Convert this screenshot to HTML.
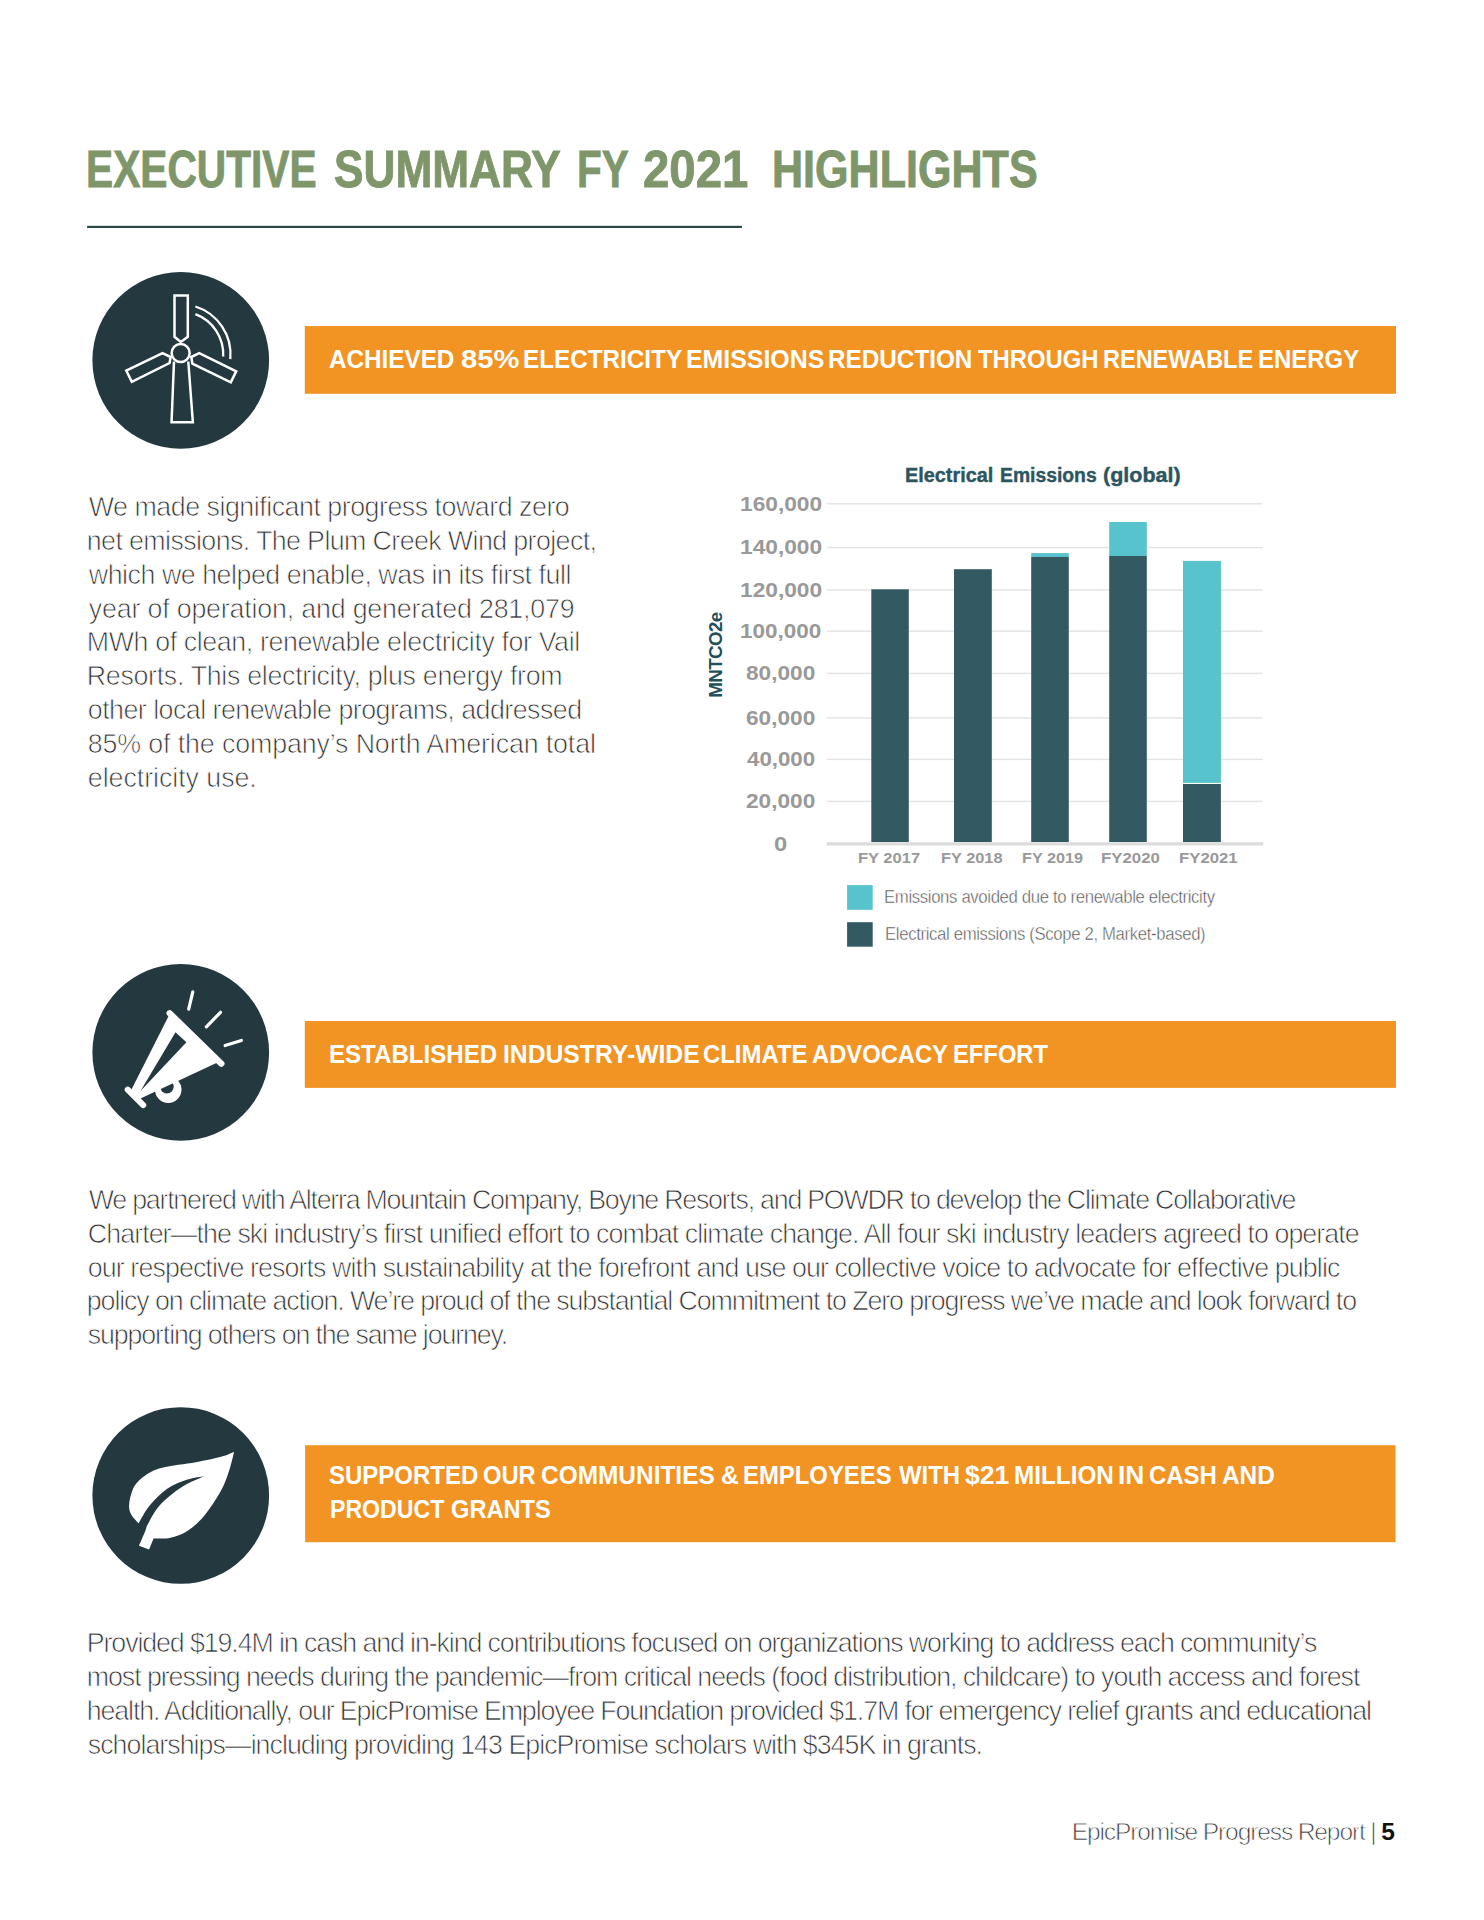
<!DOCTYPE html>
<html><head><meta charset="utf-8"><title>Executive Summary FY 2021 Highlights</title>
<style>
html,body{margin:0;padding:0;background:#fff;}
body{width:1484px;height:1920px;position:relative;overflow:hidden;font-family:"Liberation Sans",sans-serif;}
.t{position:absolute;white-space:nowrap;line-height:1;font-family:"Liberation Sans",sans-serif;}
svg{position:absolute;left:0;top:0;}
</style></head><body>
<svg width="1484" height="1920" viewBox="0 0 1484 1920">
<rect x="87.1" y="225.8" width="654.8" height="2.2" fill="#2b4a47"/>
<rect x="304.8" y="326.05" width="1091.20" height="67.75" fill="#f29423"/>
<rect x="304.8" y="1021" width="1091.20" height="66.90" fill="#f29423"/>
<rect x="305.1" y="1445.2" width="1090.40" height="97.00" fill="#f29423"/>
<circle cx="180.75" cy="360.35" r="88.35" fill="#23383f"/>
<circle cx="180.75" cy="1052.4" r="88.35" fill="#23383f"/>
<circle cx="180.75" cy="1495.5" r="88.35" fill="#23383f"/>
<g fill="none" stroke="#fff" stroke-width="2.5" stroke-linejoin="miter"><path d="M174.5 295.5 L187.8 295.5 L187.8 336.8 L180.8 341.9 L174.5 336.8 Z"/><circle cx="180.65" cy="353.06" r="9.0"/><path d="M174.0 361.5 L171.55 422.3 L192.86 422.3 L188.3 361.5"/><path d="M170.6 357.0 L162.5 353.2 L126.3 370.7 L131.8 381.9 L169.6 363.0 Z"/><path d="M191.3 357.0 L199.2 353.2 L236.2 371.3 L230.8 382.3 L192.4 363.6 Z"/></g>
<g fill="none" stroke="#fff" stroke-width="2.3"><path d="M195.4 306.5 A50.3 50.3 0 0 1 230.3 359.1"/><path d="M195.4 314.1 A43 43 0 0 1 223.2 356.6"/></g>
<circle cx="168.2" cy="1089.6" r="13.3" fill="#fff"/>
<circle cx="166.9" cy="1086.6" r="6.8" fill="#23383f"/>
<path d="M169.6 1014.1 L218.5 1062.0 L137.8 1099.7 L130.2 1092.0 Z" fill="#fff"/>
<path d="M175.5 1032.3 L186.4 1042.3 L140.5 1091.0 Z" fill="#23383f"/>
<g stroke="#fff" stroke-linecap="round" fill="none"><path d="M169.6 1013.2 L221.4 1063.7" stroke-width="6.2"/><path d="M127.7 1089.6 L143.2 1105.1" stroke-width="6"/><path d="M192.8 991.8 L188.7 1009.1" stroke-width="3.2"/><path d="M220.5 1012.3 L206.4 1026.8" stroke-width="3.2"/><path d="M241.4 1040.5 L225.1 1045.5" stroke-width="3.2"/></g>
<path d="M234.13 1451.79 C233.36 1454.74 231.68 1463.02 229.50 1469.48 C227.33 1475.94 225.29 1482.82 221.08 1490.54 C216.87 1498.26 209.85 1509.07 204.23 1515.81 C198.62 1522.55 193.00 1527.32 187.39 1530.97 C181.77 1534.62 175.59 1536.45 170.54 1537.71 C165.49 1538.97 159.87 1538.48 157.06 1538.55 C154.25 1538.62 154.25 1538.20 153.69 1538.13 L149.06 1549.50 L138.95 1545.71 C140.01 1543.25 143.80 1534.55 145.27 1530.97 C146.74 1527.39 145.69 1528.16 147.80 1524.23 C149.90 1520.30 153.83 1512.44 157.90 1507.39 C161.98 1502.33 167.31 1497.84 172.22 1493.91 C177.14 1489.98 182.05 1486.75 187.39 1483.80 C192.72 1480.85 201.42 1477.48 204.23 1476.22 C201.42 1476.78 193.56 1477.48 187.39 1479.59 C181.21 1481.69 173.49 1484.50 167.17 1488.85 C160.85 1493.21 154.25 1499.94 149.48 1505.70 C144.71 1511.46 140.36 1520.44 138.53 1523.39 C137.27 1521.85 132.49 1517.49 130.95 1514.12 C129.41 1510.75 128.70 1507.81 129.27 1503.17 C129.83 1498.54 131.65 1490.96 134.32 1486.33 C136.99 1481.69 140.64 1478.47 145.27 1475.38 C149.90 1472.29 153.69 1469.97 162.12 1467.80 C170.54 1465.62 185.98 1464.15 195.81 1462.32 C205.64 1460.50 214.69 1458.60 221.08 1456.85 C227.47 1455.09 231.96 1452.63 234.13 1451.79 Z" fill="#fff"/>
<rect x="827" y="503.10" width="435.5" height="1.4" fill="#e3e3e3"/>
<rect x="827" y="546.90" width="435.5" height="1.4" fill="#e3e3e3"/>
<rect x="827" y="589.30" width="435.5" height="1.4" fill="#e3e3e3"/>
<rect x="827" y="630.50" width="435.5" height="1.4" fill="#e3e3e3"/>
<rect x="827" y="672.70" width="435.5" height="1.4" fill="#e3e3e3"/>
<rect x="827" y="717.20" width="435.5" height="1.4" fill="#e3e3e3"/>
<rect x="827" y="758.70" width="435.5" height="1.4" fill="#e3e3e3"/>
<rect x="827" y="800.70" width="435.5" height="1.4" fill="#e3e3e3"/>
<rect x="826.7" y="842.2" width="436.6" height="3.3" fill="#dcdcdc"/>
<rect x="871.3" y="589.3" width="37.50" height="252.70" fill="#335a63"/>
<rect x="954.0" y="569.2" width="37.80" height="272.80" fill="#335a63"/>
<rect x="1031.2" y="553.1" width="37.60" height="3.80" fill="#57c3cd"/>
<rect x="1031.2" y="556.9" width="37.60" height="285.10" fill="#335a63"/>
<rect x="1109.2" y="522.0" width="37.60" height="34.00" fill="#57c3cd"/>
<rect x="1109.2" y="556.0" width="37.60" height="286.00" fill="#335a63"/>
<rect x="1183.0" y="560.9" width="37.9" height="222.00" fill="#57c3cd"/>
<rect x="1183.0" y="784.0" width="37.9" height="58.00" fill="#335a63"/>
<rect x="847.1" y="885.1" width="25.6" height="24.7" fill="#57c3cd"/>
<rect x="847.1" y="922.2" width="25.6" height="24.5" fill="#335a63"/>
</svg>
<div class="t" style="font-size:52.3px;font-weight:bold;color:#7e9669;-webkit-text-stroke:0.9px #7e9669;left:86.1px;top:143px;transform:scaleX(0.7777);transform-origin:0 0;">EXECUTIVE</div>
<div class="t" style="font-size:52.3px;font-weight:bold;color:#7e9669;-webkit-text-stroke:0.9px #7e9669;left:334.1px;top:143px;transform:scaleX(0.8453);transform-origin:0 0;">SUMMARY</div>
<div class="t" style="font-size:52.3px;font-weight:bold;color:#7e9669;-webkit-text-stroke:0.9px #7e9669;left:577.3px;top:143px;transform:scaleX(0.7733);transform-origin:0 0;">FY</div>
<div class="t" style="font-size:52.3px;font-weight:bold;color:#7e9669;-webkit-text-stroke:0.9px #7e9669;left:643px;top:143px;transform:scaleX(0.9053);transform-origin:0 0;">2021</div>
<div class="t" style="font-size:52.3px;font-weight:bold;color:#7e9669;-webkit-text-stroke:0.9px #7e9669;left:772.1px;top:143px;transform:scaleX(0.8237);transform-origin:0 0;">HIGHLIGHTS</div>
<div class="t" style="font-size:26.7px;font-weight:bold;color:#fff;left:329.2px;top:346.2px;transform:scaleX(0.9088);transform-origin:0 0;">ACHIEVED</div>
<div class="t" style="font-size:26.7px;font-weight:bold;color:#fff;left:460.5px;top:346.2px;transform:scaleX(1.0924);transform-origin:0 0;">85%</div>
<div class="t" style="font-size:26.7px;font-weight:bold;color:#fff;left:523.4px;top:346.2px;transform:scaleX(0.9093);transform-origin:0 0;">ELECTRICITY</div>
<div class="t" style="font-size:26.7px;font-weight:bold;color:#fff;left:685.5px;top:346.2px;transform:scaleX(0.9324);transform-origin:0 0;">EMISSIONS</div>
<div class="t" style="font-size:26.7px;font-weight:bold;color:#fff;left:828.4px;top:346.2px;transform:scaleX(0.9103);transform-origin:0 0;">REDUCTION</div>
<div class="t" style="font-size:26.7px;font-weight:bold;color:#fff;left:978.1px;top:346.2px;transform:scaleX(0.8933);transform-origin:0 0;">THROUGH</div>
<div class="t" style="font-size:26.7px;font-weight:bold;color:#fff;left:1103.2px;top:346.2px;transform:scaleX(0.8804);transform-origin:0 0;">RENEWABLE</div>
<div class="t" style="font-size:26.7px;font-weight:bold;color:#fff;left:1257.8px;top:346.2px;transform:scaleX(0.8973);transform-origin:0 0;">ENERGY</div>
<div class="t" style="font-size:26.7px;font-weight:bold;color:#fff;left:328.8px;top:1041.2px;transform:scaleX(0.9022);transform-origin:0 0;">ESTABLISHED</div>
<div class="t" style="font-size:26.7px;font-weight:bold;color:#fff;left:502.6px;top:1041.2px;transform:scaleX(0.9252);transform-origin:0 0;">INDUSTRY-WIDE</div>
<div class="t" style="font-size:26.7px;font-weight:bold;color:#fff;left:702.7px;top:1041.2px;transform:scaleX(0.8957);transform-origin:0 0;">CLIMATE</div>
<div class="t" style="font-size:26.7px;font-weight:bold;color:#fff;left:812.4px;top:1041.2px;transform:scaleX(0.8901);transform-origin:0 0;">ADVOCACY</div>
<div class="t" style="font-size:26.7px;font-weight:bold;color:#fff;left:953.4px;top:1041.2px;transform:scaleX(0.8905);transform-origin:0 0;">EFFORT</div>
<div class="t" style="font-size:26.7px;font-weight:bold;color:#fff;left:329.2px;top:1462.2px;transform:scaleX(0.8994);transform-origin:0 0;">SUPPORTED</div>
<div class="t" style="font-size:26.7px;font-weight:bold;color:#fff;left:483.4px;top:1462.2px;transform:scaleX(0.8897);transform-origin:0 0;">OUR</div>
<div class="t" style="font-size:26.7px;font-weight:bold;color:#fff;left:541.4px;top:1462.2px;transform:scaleX(0.9154);transform-origin:0 0;">COMMUNITIES</div>
<div class="t" style="font-size:26.7px;font-weight:bold;color:#fff;left:721.3px;top:1462.2px;transform:scaleX(0.9226);transform-origin:0 0;">&amp;</div>
<div class="t" style="font-size:26.7px;font-weight:bold;color:#fff;left:743.3px;top:1462.2px;transform:scaleX(0.8951);transform-origin:0 0;">EMPLOYEES</div>
<div class="t" style="font-size:26.7px;font-weight:bold;color:#fff;left:898.9px;top:1462.2px;transform:scaleX(0.8941);transform-origin:0 0;">WITH</div>
<div class="t" style="font-size:26.7px;font-weight:bold;color:#fff;left:964.9px;top:1462.2px;transform:scaleX(0.9910);transform-origin:0 0;">$21</div>
<div class="t" style="font-size:26.7px;font-weight:bold;color:#fff;left:1013.6px;top:1462.2px;transform:scaleX(0.9104);transform-origin:0 0;">MILLION</div>
<div class="t" style="font-size:26.7px;font-weight:bold;color:#fff;left:1118.2px;top:1462.2px;transform:scaleX(0.9870);transform-origin:0 0;">IN</div>
<div class="t" style="font-size:26.7px;font-weight:bold;color:#fff;left:1149.3px;top:1462.2px;transform:scaleX(0.8973);transform-origin:0 0;">CASH</div>
<div class="t" style="font-size:26.7px;font-weight:bold;color:#fff;left:1221.6px;top:1462.2px;transform:scaleX(0.9126);transform-origin:0 0;">AND</div>
<div class="t" style="font-size:26.7px;font-weight:bold;color:#fff;left:329.8px;top:1496px;transform:scaleX(0.8662);transform-origin:0 0;">PRODUCT</div>
<div class="t" style="font-size:26.7px;font-weight:bold;color:#fff;left:450.5px;top:1496px;transform:scaleX(0.8856);transform-origin:0 0;">GRANTS</div>
<div class="t" style="font-size:26.8px;font-weight:normal;color:#333333;-webkit-text-stroke:0.75px #fff;letter-spacing:-0.487px;left:88.8px;top:493.8px;">We made significant progress toward zero</div>
<div class="t" style="font-size:26.8px;font-weight:normal;color:#333333;-webkit-text-stroke:0.75px #fff;letter-spacing:-0.607px;left:86.8px;top:527.71px;">net emissions. The Plum Creek Wind project,</div>
<div class="t" style="font-size:26.8px;font-weight:normal;color:#333333;-webkit-text-stroke:0.75px #fff;letter-spacing:-0.475px;left:88.8px;top:561.62px;">which we helped enable, was in its first full</div>
<div class="t" style="font-size:26.8px;font-weight:normal;color:#333333;-webkit-text-stroke:0.75px #fff;letter-spacing:-0.187px;left:88.8px;top:595.53px;">year of operation, and generated 281,079</div>
<div class="t" style="font-size:26.8px;font-weight:normal;color:#333333;-webkit-text-stroke:0.75px #fff;letter-spacing:-0.395px;left:86.8px;top:629.44px;">MWh of clean, renewable electricity for Vail</div>
<div class="t" style="font-size:26.8px;font-weight:normal;color:#333333;-webkit-text-stroke:0.75px #fff;letter-spacing:-0.312px;left:86.8px;top:663.35px;">Resorts. This electricity, plus energy from</div>
<div class="t" style="font-size:26.8px;font-weight:normal;color:#333333;-webkit-text-stroke:0.75px #fff;letter-spacing:-0.527px;left:87.8px;top:697.26px;">other local renewable programs, addressed</div>
<div class="t" style="font-size:26.8px;font-weight:normal;color:#333333;-webkit-text-stroke:0.75px #fff;letter-spacing:-0.132px;left:87.8px;top:731.17px;">85% of the company’s North American total</div>
<div class="t" style="font-size:26.8px;font-weight:normal;color:#333333;-webkit-text-stroke:0.75px #fff;letter-spacing:-0.053px;left:87.8px;top:765.08px;">electricity use.</div>
<div class="t" style="font-size:26.8px;font-weight:normal;color:#333333;-webkit-text-stroke:0.75px #fff;letter-spacing:-1.253px;left:88.8px;top:1187.2px;">We partnered with Alterra Mountain Company, Boyne Resorts, and POWDR to develop the Climate Collaborative</div>
<div class="t" style="font-size:26.8px;font-weight:normal;color:#333333;-webkit-text-stroke:0.75px #fff;letter-spacing:-0.936px;left:87.8px;top:1220.85px;">Charter—the ski industry’s first unified effort to combat climate change. All four ski industry leaders agreed to operate</div>
<div class="t" style="font-size:26.8px;font-weight:normal;color:#333333;-webkit-text-stroke:0.75px #fff;letter-spacing:-0.903px;left:87.8px;top:1254.5px;">our respective resorts with sustainability at the forefront and use our collective voice to advocate for effective public</div>
<div class="t" style="font-size:26.8px;font-weight:normal;color:#333333;-webkit-text-stroke:0.75px #fff;letter-spacing:-1.108px;left:86.8px;top:1288.15px;">policy on climate action. We’re proud of the substantial Commitment to Zero progress we’ve made and look forward to</div>
<div class="t" style="font-size:26.8px;font-weight:normal;color:#333333;-webkit-text-stroke:0.75px #fff;letter-spacing:-1.146px;left:87.8px;top:1321.8px;">supporting others on the same journey.</div>
<div class="t" style="font-size:26.8px;font-weight:normal;color:#333333;-webkit-text-stroke:0.75px #fff;letter-spacing:-1.115px;left:86.8px;top:1629.7px;">Provided $19.4M in cash and in-kind contributions focused on organizations working to address each community’s</div>
<div class="t" style="font-size:26.8px;font-weight:normal;color:#333333;-webkit-text-stroke:0.75px #fff;letter-spacing:-1.078px;left:86.8px;top:1663.77px;">most pressing needs during the pandemic—from critical needs (food distribution, childcare) to youth access and forest</div>
<div class="t" style="font-size:26.8px;font-weight:normal;color:#333333;-webkit-text-stroke:0.75px #fff;letter-spacing:-1.138px;left:86.8px;top:1697.84px;">health. Additionally, our EpicPromise Employee Foundation provided $1.7M for emergency relief grants and educational</div>
<div class="t" style="font-size:26.8px;font-weight:normal;color:#333333;-webkit-text-stroke:0.75px #fff;letter-spacing:-0.992px;left:87.8px;top:1731.91px;">scholarships—including providing 143 EpicPromise scholars with $345K in grants.</div>
<div class="t" style="font-size:24.6px;font-weight:normal;color:#3a3a3a;-webkit-text-stroke:0.75px #fff;letter-spacing:-1.147px;left:1071.7px;top:1820px;">EpicPromise Progress Report | <b style="color:#111;-webkit-text-stroke:0">5</b></div>
<div class="t" style="font-size:20.7px;font-weight:bold;color:#2c5560;-webkit-text-stroke:0.4px #2c5560;left:905.3px;top:465.2px;transform:scaleX(0.9589);transform-origin:0 0;">Electrical</div>
<div class="t" style="font-size:20.7px;font-weight:bold;color:#2c5560;-webkit-text-stroke:0.4px #2c5560;left:999.7px;top:465.2px;transform:scaleX(0.9343);transform-origin:0 0;">Emissions</div>
<div class="t" style="font-size:20.7px;font-weight:bold;color:#2c5560;-webkit-text-stroke:0.4px #2c5560;left:1103.1px;top:465.2px;transform:scaleX(1.0398);transform-origin:0 0;">(global)</div>
<div class="t" style="font-size:18px;font-weight:normal;color:#505050;-webkit-text-stroke:0.45px #fff;letter-spacing:-0.382px;left:883.5px;top:888.3px;transform:scaleX(0.9300);transform-origin:0 0;">Emissions avoided due to renewable electricity</div>
<div class="t" style="font-size:18px;font-weight:normal;color:#505050;-webkit-text-stroke:0.45px #fff;letter-spacing:-0.380px;left:885.2px;top:925.4px;transform:scaleX(0.9300);transform-origin:0 0;">Electrical emissions (Scope 2, Market-based)</div>
<div class="t" style="font-size:14.5px;font-weight:bold;color:#999999;left:858.4px;top:850.8px;transform:scaleX(1.1377);transform-origin:0 0;">FY 2017</div>
<div class="t" style="font-size:14.5px;font-weight:bold;color:#999999;left:941.2px;top:850.8px;transform:scaleX(1.1285);transform-origin:0 0;">FY 2018</div>
<div class="t" style="font-size:14.5px;font-weight:bold;color:#999999;left:1021.5px;top:850.8px;transform:scaleX(1.1191);transform-origin:0 0;">FY 2019</div>
<div class="t" style="font-size:14.5px;font-weight:bold;color:#999999;left:1101px;top:850.8px;transform:scaleX(1.1594);transform-origin:0 0;">FY2020</div>
<div class="t" style="font-size:14.5px;font-weight:bold;color:#999999;left:1178.6px;top:850.8px;transform:scaleX(1.1540);transform-origin:0 0;">FY2021</div>
<div class="t" style="font-size:20.5px;font-weight:bold;color:#999999;left:739.85px;top:493.6px;transform:scaleX(1.1083);transform-origin:0 0;">160,000</div>
<div class="t" style="font-size:20.5px;font-weight:bold;color:#999999;left:739.85px;top:537.4px;transform:scaleX(1.1083);transform-origin:0 0;">140,000</div>
<div class="t" style="font-size:20.5px;font-weight:bold;color:#999999;left:739.85px;top:579.8px;transform:scaleX(1.1083);transform-origin:0 0;">120,000</div>
<div class="t" style="font-size:20.5px;font-weight:bold;color:#999999;left:740px;top:621px;transform:scaleX(1.0959);transform-origin:0 0;">100,000</div>
<div class="t" style="font-size:20.5px;font-weight:bold;color:#999999;left:746.1px;top:663.2px;transform:scaleX(1.1049);transform-origin:0 0;">80,000</div>
<div class="t" style="font-size:20.5px;font-weight:bold;color:#999999;left:746.1px;top:707.7px;transform:scaleX(1.1049);transform-origin:0 0;">60,000</div>
<div class="t" style="font-size:20.5px;font-weight:bold;color:#999999;left:747.1px;top:749.2px;transform:scaleX(1.0871);transform-origin:0 0;">40,000</div>
<div class="t" style="font-size:20.5px;font-weight:bold;color:#999999;left:746.1px;top:791.2px;transform:scaleX(1.1049);transform-origin:0 0;">20,000</div>
<div class="t" style="font-size:20.5px;font-weight:bold;color:#999999;left:774.4px;top:833.8px;transform:scaleX(1.1611);transform-origin:0 0;">0</div>
<div class="t" style="font-size:18.8px;font-weight:bold;color:#23505a;letter-spacing:-0.633px;left:672.45px;top:646.1px;transform-origin:43.2px 8.5px;transform:rotate(-90deg);">MNTCO2e</div>
</body></html>
